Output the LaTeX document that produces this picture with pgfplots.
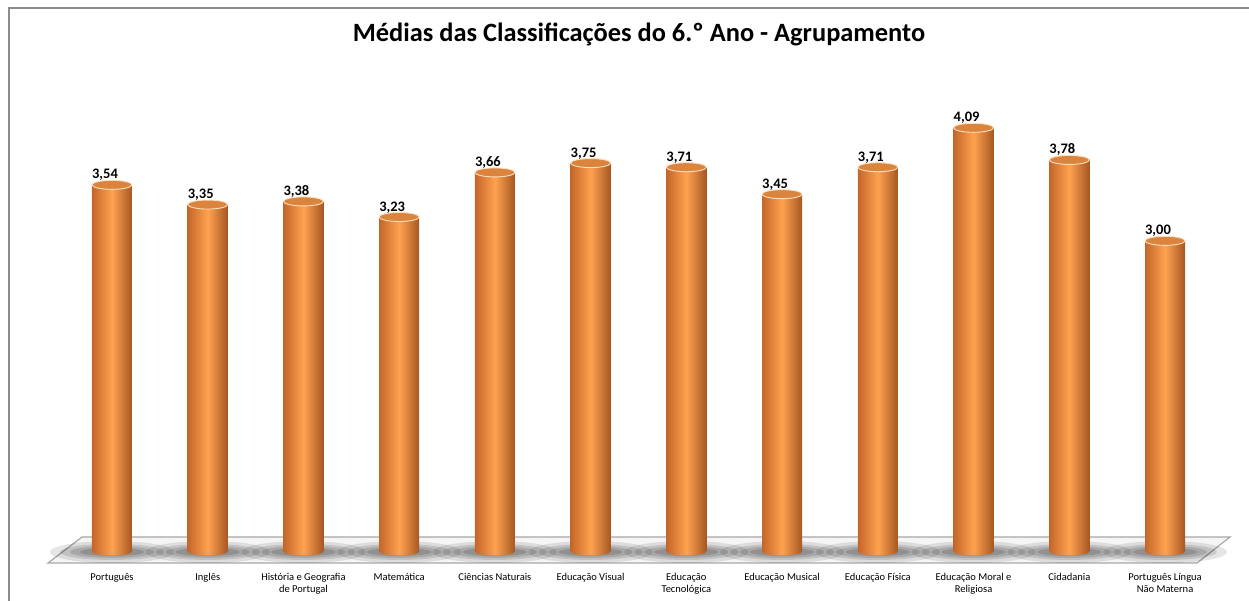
\documentclass[border=0pt]{standalone}
\usepackage{fontspec}
\setmainfont{Carlito}
\usepackage{pgfplots}
\usepackage{pgfplotstable}
\pgfplotsset{compat=1.18}
\definecolor{barmid}{HTML}{FFA24F}
\definecolor{baredge}{HTML}{C4662A}
\definecolor{bartop}{HTML}{DB843E}
\definecolor{floorc}{HTML}{F5F5F5}
\definecolor{floorline}{HTML}{A8A8A8}
\definecolor{framec}{HTML}{8C8C8C}

\pgfplotstableread{
x y
0 3.54
1 3.35
2 3.38
3 3.23
4 3.66
5 3.75
6 3.71
7 3.45
8 3.71
9 4.09
10 3.78
11 3.00
}\datatable

\pgfdeclareplotmark{cyltop}{\path[fill=bartop, draw=white!75!orange, line width=0.9pt] (0pt,0pt) ellipse [x radius=20pt, y radius=4.5pt];}
\pgfdeclareplotmark{cylbot}{\shade[draw=none, left color=baredge, right color=baredge!85!black, middle color=barmid] (-20pt,0.5pt) arc [start angle=180, end angle=360, x radius=20pt, y radius=4pt] -- cycle;}
\pgfdeclareplotmark{shadow}{%
  \begin{pgfscope}
  \pgfpathrectangle{\pgfqpoint{-70pt}{-11pt}}{\pgfqpoint{140pt}{25pt}}\pgfusepath{clip}
  \path[fill=black, draw=none, opacity=0.10, rotate=16] (0pt,0pt) ellipse [x radius=62pt, y radius=11pt];
  \path[fill=black, draw=none, opacity=0.12, rotate=16] (0pt,0pt) ellipse [x radius=52pt, y radius=8pt];
  \path[fill=black, draw=none, opacity=0.13, rotate=16] (0pt,0pt) ellipse [x radius=42pt, y radius=6pt];
  \path[fill=black, draw=none, opacity=0.14, rotate=16] (0pt,0pt) ellipse [x radius=32pt, y radius=4pt];
  \end{pgfscope}}

\pgfplotsset{common/.style={
  at={(64.1pt,49pt)}, anchor=south west,
  scale only axis, width=1148.8pt, height=466.7pt,
  xmin=-0.5, xmax=11.5, ymin=0, ymax=4.5,
  clip=false,
  axis line style={draw=none},
  tick style={draw=none},
  ytick=\empty,
}}

\begin{document}
\begin{tikzpicture}[x=1pt,y=1pt]
\useasboundingbox (0,0) rectangle (1249,601);
\draw[framec, line width=1.5pt] (9,-2) -- (9,593) -- (1252,593);
\node[font=\fontsize{26.4}{30}\selectfont\bfseries, anchor=base] at (639,559) {Médias das Classificações do 6.º Ano - Agrupamento};
\filldraw[fill=floorc, draw=floorline, line width=1.2pt] (48,38) -- (1197,38) -- (1230,64) -- (82,64) -- cycle;
\begin{axis}[common, xtick=\empty]
\addplot[only marks, mark=shadow] table[x=x, y expr=0] {\datatable};
\end{axis}
\begin{axis}[common,
  xtick={0,...,11},
  xticklabels={Português, Inglês, História e Geografia\\de Portugal, Matemática, Ciências Naturais, Educação Visual, Educação\\Tecnológica, Educação Musical, Educação Física, Educação Moral e\\Religiosa, Cidadania, Português Língua\\Não Materna},
  xticklabel style={align=center, font=\fontsize{10.5}{12}\selectfont, yshift=-18pt},
  /pgf/number format/assume math mode=true,
  /pgf/number format/fixed,
  /pgf/number format/fixed zerofill,
  /pgf/number format/precision=2,
  /pgf/number format/use comma,
  cyl/.style={ybar, bar width=40pt, draw=none, left color=baredge, right color=baredge!85!black, middle color=barmid},
]
\addplot[cyl] coordinates {(0,3.54)};
\addplot[cyl] coordinates {(1,3.35)};
\addplot[cyl] coordinates {(2,3.38)};
\addplot[cyl] coordinates {(3,3.23)};
\addplot[cyl] coordinates {(4,3.66)};
\addplot[cyl] coordinates {(5,3.75)};
\addplot[cyl] coordinates {(6,3.71)};
\addplot[cyl] coordinates {(7,3.45)};
\addplot[cyl] coordinates {(8,3.71)};
\addplot[cyl] coordinates {(9,4.09)};
\addplot[cyl] coordinates {(10,3.78)};
\addplot[cyl] coordinates {(11,3.00)};
\addplot[only marks, mark=cylbot] table[x=x, y expr=0] {\datatable};
\addplot[only marks, mark=cyltop, nodes near coords,
  nodes near coords style={font=\fontsize{14.5}{16}\selectfont\bfseries, anchor=base, yshift=6pt, xshift=-7pt, text=black}] table[x=x, y=y] {\datatable};
\end{axis}
\end{tikzpicture}
\end{document}
